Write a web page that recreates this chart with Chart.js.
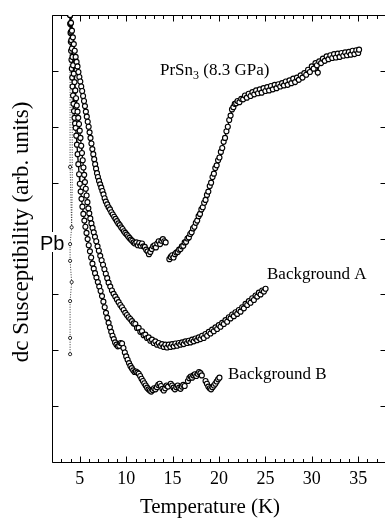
<!DOCTYPE html>
<html><head><meta charset="utf-8">
<script src="https://cdn.jsdelivr.net/npm/chart.js@4/dist/chart.umd.min.js"></script>
<style>html,body{margin:0;padding:0;background:#fff;overflow:hidden;width:385px;height:520px}canvas{display:block}</style>
</head><body>
<canvas id="c" width="392" height="520"></canvas>
<script>
// ---- data ----
const prsnT = [3.95,4.05,4.15,4.25,4.35,4.45,4.55,4.65,4.75,4.85,4.95,5.05,5.15,5.25,5.35,5.45,5.55,5.65,5.75,5.85,5.95,6.05,6.15,6.25,6.35,6.45,6.55,6.65,6.75,6.85,6.95,7.07,7.19,7.31,7.43,7.55,7.67,7.80,7.95,8.10,8.25,8.40,8.55,8.70,8.85,9.00,9.15,9.30,9.45,9.60,9.75,9.90,10.05,10.20,10.35,10.50,10.65,10.80,10.95,11.10,11.25,11.40,11.55,11.70,11.85,12.00,12.15,12.30,12.45,12.60,12.75,12.90,13.05,13.20,13.35,13.50,13.65,13.80,13.95,14.10,14.25,14.45,14.65,14.80,14.95,15.10,15.25,15.40,15.55,15.70,15.85,16.00,16.15,16.30,16.45,16.60,16.75,16.90,17.05,17.20,17.35,17.50,17.65,17.80,17.95,18.10,18.25,18.40,18.55,18.70,18.85,19.00,19.15,19.30,19.45,19.60,19.75,19.90,20.05,20.20,20.35,20.50,20.65,20.80,20.95,21.10,21.25,21.40,21.55,21.70,21.85,22.00,22.20,22.40,22.60,22.80,23.00,23.20,23.40,23.60,23.80,24.00,24.20,24.40,24.60,24.80,25.00,25.20,25.40,25.60,25.80,26.00,26.20,26.40,26.60,26.80,27.00,27.20,27.40,27.60,27.80,28.00,28.20,28.40,28.60,28.80,29.00,29.20,29.40,29.60,29.80,30.00,30.20,30.40,30.55,30.65,30.80,31.00,31.20,31.40,31.60,31.80,32.00,32.20,32.40,32.60,32.80,33.00,33.20,33.40,33.60,33.80,34.00,34.20,34.40,34.60,34.80,35.00,35.10];
const prsnY = [8.00,7.86,7.72,7.60,7.48,7.36,7.25,7.16,7.08,6.98,6.89,6.81,6.72,6.64,6.55,6.46,6.37,6.27,6.18,6.09,6.00,5.90,5.80,5.70,5.60,5.51,5.42,5.33,5.25,5.17,5.10,5.03,4.97,4.91,4.85,4.79,4.72,4.66,4.61,4.56,4.52,4.47,4.43,4.39,4.35,4.31,4.27,4.24,4.20,4.17,4.13,4.10,4.07,4.04,4.01,3.98,3.96,3.93,3.91,3.93,3.88,3.92,3.87,3.91,3.86,3.85,3.80,3.77,3.72,3.76,3.81,3.86,3.88,3.84,3.91,3.95,3.90,3.96,3.99,3.95,3.93,null,3.63,3.67,3.70,3.66,3.72,3.75,3.76,3.80,3.81,3.86,3.87,3.93,3.94,4.00,4.02,4.08,4.11,4.18,4.21,4.28,4.32,4.40,4.44,4.52,4.56,4.64,4.69,4.78,4.84,4.94,5.00,5.10,5.16,5.26,5.31,5.40,5.45,5.55,5.62,5.73,5.80,5.92,6.00,6.12,6.20,6.31,6.35,6.41,6.42,6.46,6.44,6.50,6.49,6.56,6.52,6.59,6.55,6.62,6.58,6.65,6.60,6.67,6.61,6.69,6.64,6.71,6.65,6.73,6.67,6.75,6.69,6.76,6.72,6.78,6.74,6.81,6.75,6.83,6.78,6.86,6.80,6.88,6.84,6.92,6.88,6.96,6.93,7.02,6.98,7.08,7.04,7.14,7.10,6.97,7.17,7.14,7.22,7.18,7.26,7.21,7.28,7.23,7.30,7.24,7.31,7.25,7.32,7.27,7.33,7.28,7.34,7.29,7.36,7.30,7.37,7.32,7.38,7.39];

const bgAT = [3.95,3.99,4.04,4.09,4.15,4.21,4.28,4.35,4.43,4.51,4.59,4.67,4.75,4.83,4.91,4.99,5.07,5.15,5.23,5.31,5.39,5.47,5.55,5.64,5.73,5.82,5.92,6.02,6.13,6.25,6.37,6.50,6.63,6.77,6.91,7.05,7.20,7.35,7.50,7.65,7.80,7.95,8.10,8.28,8.46,8.64,8.82,9.00,9.18,9.36,9.54,9.72,9.90,10.08,10.26,10.44,10.62,10.80,10.98,11.16,11.34,11.52,11.70,11.88,12.06,12.24,12.42,12.60,12.78,12.96,13.14,13.32,13.50,13.68,13.86,14.04,14.22,14.40,14.58,14.76,14.94,15.12,15.30,15.48,15.66,15.84,16.02,16.20,16.38,16.56,16.74,16.92,17.10,17.28,17.46,17.64,17.82,18.00,18.18,18.36,18.54,18.72,18.90,19.08,19.26,19.44,19.62,19.80,19.98,20.16,20.34,20.52,20.70,20.88,21.06,21.24,21.42,21.60,21.78,21.96,22.14,22.32,22.50,22.68,22.86,23.04,23.22,23.40,23.58,23.76,23.94,24.12,24.30,24.48,24.66,24.84,25.02];
const bgAY = [8.00,7.85,7.70,7.55,7.40,7.25,7.10,6.95,6.80,6.65,6.51,6.38,6.27,6.16,6.05,5.93,5.80,5.66,5.53,5.40,5.27,5.14,5.01,4.89,4.77,4.65,4.54,4.45,4.36,4.27,4.19,4.11,4.03,3.95,3.86,3.78,3.69,3.61,3.53,3.45,3.37,3.29,3.21,3.14,3.07,3.01,2.96,2.91,2.86,2.81,2.77,2.72,2.67,2.63,2.59,2.56,2.52,2.48,2.47,2.40,2.40,2.33,2.34,2.27,2.28,2.22,2.23,2.17,2.19,2.13,2.16,2.10,2.13,2.08,2.11,2.06,2.10,2.05,2.10,2.06,2.11,2.07,2.12,2.08,2.13,2.10,2.14,2.11,2.16,2.13,2.17,2.14,2.19,2.16,2.21,2.18,2.23,2.20,2.26,2.22,2.29,2.26,2.33,2.30,2.37,2.34,2.41,2.38,2.45,2.42,2.49,2.47,2.54,2.51,2.59,2.57,2.64,2.61,2.68,2.65,2.72,2.69,2.77,2.75,2.83,2.81,2.88,2.85,2.93,2.90,2.98,2.96,3.03,3.00,3.07,3.05,3.10];

const bgBT = [3.95,3.97,4.00,4.03,4.06,4.10,4.14,4.18,4.22,4.27,4.32,4.37,4.43,4.49,4.55,4.62,4.69,4.76,4.84,4.92,5.00,5.09,5.18,5.28,5.38,5.49,5.60,5.72,5.84,5.96,6.09,6.22,6.36,6.50,6.64,6.79,6.94,7.09,7.24,7.39,7.54,7.68,7.82,7.96,8.10,8.24,8.38,8.52,8.66,8.80,8.95,9.10,9.25,9.40,9.55,9.70,9.85,10.00,10.15,10.30,10.45,10.60,10.75,10.90,11.05,11.20,11.35,11.50,11.65,11.80,11.95,12.10,12.25,12.40,12.55,12.70,12.85,13.00,13.15,13.30,13.45,13.60,13.75,13.90,14.05,14.20,14.35,14.50,14.65,14.80,14.95,15.10,15.25,15.40,15.55,15.70,15.85,16.00,16.15,16.30,16.48,16.65,16.80,16.95,17.10,17.25,17.40,17.55,17.70,17.85,18.00,18.15,18.35,18.55,18.70,18.85,19.00,19.15,19.30,19.45,19.60,19.75,19.90,20.05];
const bgBY = [8.00,7.84,7.68,7.52,7.36,7.20,7.04,6.88,6.72,6.56,6.41,6.28,6.16,6.06,5.98,5.84,5.68,5.51,5.33,5.15,4.98,4.84,4.71,4.57,4.44,4.32,4.21,4.10,3.99,3.88,3.77,3.66,3.55,3.46,3.38,3.30,3.22,3.14,3.06,2.97,2.87,2.77,2.67,2.58,2.49,2.41,2.33,2.26,2.20,2.14,2.10,2.07,2.08,2.13,2.12,2.04,1.96,1.89,1.83,1.77,1.72,1.68,1.64,1.61,1.62,1.60,1.58,1.54,1.49,1.45,1.41,1.37,1.33,1.30,1.28,1.26,1.29,1.32,1.30,1.34,1.38,1.40,1.36,1.31,1.28,1.32,1.37,1.35,null,1.40,1.37,1.33,1.30,1.34,1.37,1.33,1.31,1.35,1.38,1.36,null,1.45,1.50,1.53,1.51,1.55,1.57,1.54,1.58,1.61,1.59,1.55,null,1.45,1.40,1.35,1.32,1.30,1.34,1.37,1.40,1.44,1.48,1.51];

const pbT = [3.95,3.95,4.12,3.95,3.95,4.12,3.95,3.95,3.95];
const pbY = [8.10,5.28,4.20,3.90,3.60,3.22,2.88,2.22,1.93];
const pb2T = [4.18,4.18,4.12];
const pb2Y = [8.10,5.00,4.20];

const xMajorTicks = [5,10,15,20,25,30,35];
const xMinorTicks = [2,3,4,6,7,8,9,11,12,13,14,16,17,18,19,21,22,23,24,26,27,28,29,31,32,33,34,36,37,38];
const yTicks = [1,2,3,4,5,6,7];
const xRange = [2,38];
const yRange = [0,8];

function pts(T, Y){ return T.map((t,i)=>({x:t, y:Y[i]})); }

const serif = '"Liberation Serif","Times New Roman",serif';

const decor = {
  id: 'decor',
  beforeDatasetsDraw(chart){
    const {ctx, chartArea:a, scales:{x, y}} = chart;
    ctx.save();
    ctx.strokeStyle = '#000'; ctx.lineWidth = 1;
    const L = Math.round(a.left)+0.5, R = Math.round(a.right)+0.5, T = Math.round(a.top)+0.5, B = Math.round(a.bottom)+0.5;
    ctx.beginPath();
    ctx.moveTo(L,T); ctx.lineTo(R,T); ctx.lineTo(R,B); ctx.lineTo(L,B); ctx.closePath();
    ctx.stroke();
    ctx.beginPath();
    xMajorTicks.forEach(v=>{ const p=Math.round(x.getPixelForValue(v))+0.5; ctx.moveTo(p,B); ctx.lineTo(p,B-6); ctx.moveTo(p,T); ctx.lineTo(p,T+6); });
    xMinorTicks.forEach(v=>{ const p=Math.round(x.getPixelForValue(v))+0.5; ctx.moveTo(p,B); ctx.lineTo(p,B-3.5); ctx.moveTo(p,T); ctx.lineTo(p,T+3.5); });
    yTicks.forEach(v=>{ const p=Math.round(y.getPixelForValue(v))+0.5; ctx.moveTo(L,p); ctx.lineTo(L+6,p); ctx.moveTo(R,p); ctx.lineTo(R-6,p); });
    ctx.stroke();
    ctx.restore();
  },
  afterDraw(chart){
    const {ctx} = chart;
    ctx.save();
    ctx.fillStyle = '#000';
    ctx.font = '23px ' + serif;
    ctx.textAlign = 'center'; ctx.textBaseline = 'middle';
    ctx.save(); ctx.translate(22, 232); ctx.rotate(-Math.PI/2);
    ctx.fillText('dc Susceptibility (arb. units)', 0, 0); ctx.restore();
    ctx.font = '21px ' + serif; ctx.textBaseline = 'alphabetic';
    ctx.fillText('Temperature (K)', 210, 513);
    ctx.textAlign = 'left';
    ctx.font = '17px ' + serif;
    let xx = 160;
    ctx.fillText('PrSn', xx, 75); xx += ctx.measureText('PrSn').width;
    ctx.font = '12px ' + serif; ctx.fillText('3', xx, 79); xx += ctx.measureText('3').width;
    ctx.font = '17px ' + serif; ctx.fillText(' (8.3 GPa)', xx, 75);
    ctx.fillText('Background A', 267, 279);
    ctx.fillText('Background B', 228, 379);
    ctx.font = '20px "Liberation Sans",Arial,sans-serif';
    const w = ctx.measureText('Pb').width;
    ctx.fillStyle = '#fff'; ctx.fillRect(39, 232, w+2, 20);
    ctx.fillStyle = '#000'; ctx.fillText('Pb', 40, 250);
    ctx.restore();
  }
};

const mainStyle = {
  showLine: true, borderColor: '#000', borderWidth: 1.3,
  pointRadius: 2.5, pointBorderWidth: 1.15, pointBorderColor: '#000', pointBackgroundColor: '#fff',
  spanGaps: false, tension: 0
};

new Chart(document.getElementById('c'), {
  type: 'scatter',
  data: { datasets: [
    Object.assign({label:'PrSn3 (8.3 GPa)', data: pts(prsnT, prsnY)}, mainStyle),
    Object.assign({label:'Background A', data: pts(bgAT, bgAY)}, mainStyle),
    Object.assign({label:'Background B', data: pts(bgBT, bgBY)}, mainStyle),
    {label:'Pb', data: pts(pbT, pbY), showLine: true, borderColor: '#333', borderWidth: 1, borderDash: [1,1.5],
     pointRadius: 1.6, pointBorderWidth: 0.8, pointBorderColor: '#000', pointBackgroundColor: '#fff'},
    {label:'Pb2', data: pts(pb2T, pb2Y), showLine: true, borderColor: '#333', borderWidth: 1, borderDash: [1,1.5],
     pointRadius: 0}
  ]},
  options: {
    responsive: false, animation: false, devicePixelRatio: 1,
    layout: { padding: { left: 52, right: 5, top: 15, bottom: 0 } },
    plugins: { legend: { display: false }, tooltip: { enabled: false } },
    scales: {
      x: { type: 'linear', min: xRange[0], max: xRange[1], position: 'bottom',
           grid: { display: false, drawTicks: false }, border: { display: false },
           afterFit: s => { s.height = 58; },
           ticks: { stepSize: 1, autoSkip: false, maxRotation: 0, padding: 6, color: '#000',
                    font: { family: serif, size: 18 },
                    callback: v => xMajorTicks.includes(v) ? String(v) : '' } },
      y: { type: 'linear', min: yRange[0], max: yRange[1], display: false }
    }
  },
  plugins: [decor]
});
</script>
</body></html>
